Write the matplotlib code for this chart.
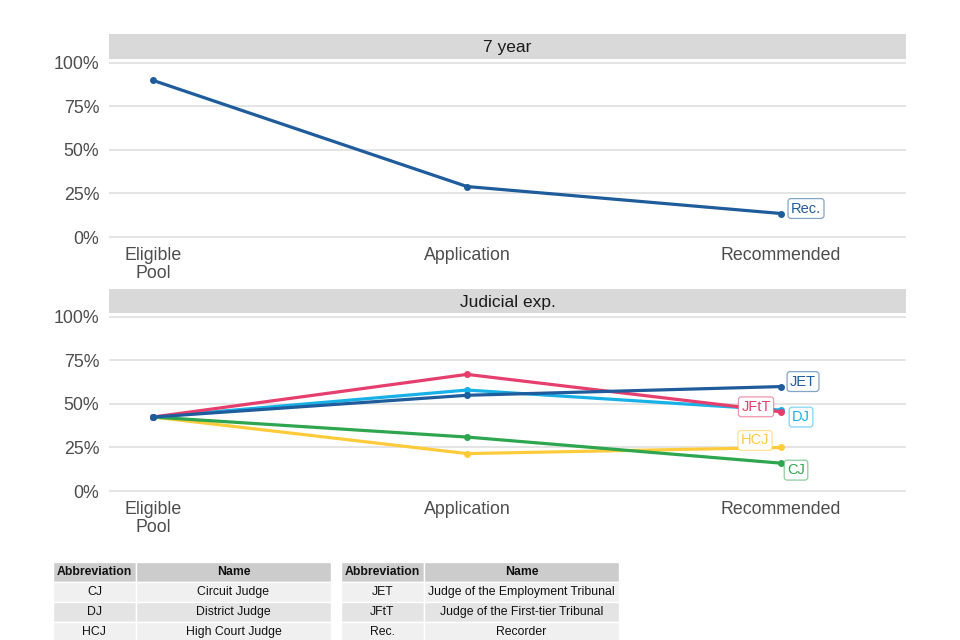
import matplotlib
matplotlib.use("Agg")
import matplotlib.pyplot as plt
from matplotlib.colors import to_rgba
from matplotlib.ticker import PercentFormatter

plt.rcParams['font.family'] = ['Liberation Sans', 'DejaVu Sans']

# data
stages = ["Eligible\nPool", "Application", "Recommended"]
panel_titles = ["7 year", "Judicial exp."]

rec_7yr = [0.90, 0.29, 0.135]

hcj = [0.425, 0.215, 0.25]
cj = [0.425, 0.31, 0.16]
dj = [0.425, 0.58, 0.465]
jftt = [0.425, 0.67, 0.455]
jet = [0.425, 0.55, 0.60]

abbr_left = ["CJ", "DJ", "HCJ"]
name_left = ["Circuit Judge", "District Judge", "High Court Judge"]
abbr_right = ["JET", "JFtT", "Rec."]
name_right = ["Judge of the Employment Tribunal", "Judge of the First-tier Tribunal", "Recorder"]

# colours
DARK = "#1f5c9c"
LIGHT = "#17b1e8"
PINK = "#e63e6d"
YELLOW = "#ffcb3b"
GREEN = "#2ea64f"

W, H = 960, 640
fig = plt.figure(figsize=(9.6, 6.4), dpi=100)

def box(l, t, r, b):
    return [l / W, 1 - b / H, (r - l) / W, (b - t) / H]

def strip(t, b, title):
    s = fig.add_axes(box(109, t, 906, b))
    s.set_facecolor("#d9d9d9")
    s.set_xticks([]); s.set_yticks([])
    for sp in s.spines.values():
        sp.set_visible(False)
    s.text(0.5, 0.45, title, ha="center", va="center", fontsize=12.5, color="#1a1a1a",
           transform=s.transAxes)

def panel(t, b):
    ax = fig.add_axes(box(109, t, 906, b))
    ax.set_xlim(-0.14, 2.398)
    ax.set_ylim(-0.0057, 1.017)
    ax.set_yticks([0, 0.25, 0.5, 0.75, 1.0])
    ax.yaxis.set_major_formatter(PercentFormatter(1.0, decimals=0))
    ax.set_xticks(range(len(stages)))
    ax.set_xticklabels(stages, linespacing=1.05)
    ax.tick_params(axis="both", length=0, labelsize=12.8, labelcolor="#4d4d4d")
    ax.tick_params(axis="y", pad=7)
    ax.tick_params(axis="x", pad=6.5)
    ax.grid(axis="y", color="#dcdcdc", linewidth=1.1)
    ax.set_axisbelow(True)
    for sp in ax.spines.values():
        sp.set_visible(False)
    return ax

def label(ax, x, y, text, color, dx, dy):
    ax.annotate(text, (x, y), xytext=(dx, dy), textcoords="offset pixels",
                ha="center", va="center", fontsize=10.5, color=color, zorder=10,
                bbox=dict(boxstyle="round,pad=0.2,rounding_size=0.2", fc="white",
                          ec=to_rgba(color, 0.55), lw=0.9))

xs = list(range(len(stages)))

# top panel
strip(34, 59, panel_titles[0])
ax1 = panel(60, 238)
ax1.plot(xs, rec_7yr, color=DARK, lw=2.3, marker="o", ms=4, zorder=3)
label(ax1, xs[-1], rec_7yr[-1], "Rec.", DARK, 25, 5)

# bottom panel
strip(289, 313, panel_titles[1])
ax2 = panel(314, 492)
series = [(hcj, YELLOW), (cj, GREEN), (dj, LIGHT), (jftt, PINK), (jet, DARK)]
for vals, col in series:
    ax2.plot(xs, vals, color=col, lw=2.3, marker="o", ms=4, zorder=3)

label(ax2, xs[-1], jet[-1], "JET", DARK, 22, 5)
label(ax2, xs[-1], dj[-1], "DJ", LIGHT, 20, -7)
label(ax2, xs[-1], jftt[-1], "JFtT", PINK, -25, 5)
label(ax2, xs[-1], hcj[-1], "HCJ", YELLOW, -26, 7)
label(ax2, xs[-1], cj[-1], "CJ", GREEN, 15, -7)

# abbreviation tables
def draw_table(l, r, abbrs, names):
    ta = fig.add_axes(box(l, 562, r, 642))
    ta.axis("off")
    rows = [[a, n] for a, n in zip(abbrs, names)]
    row_cols = ["#f0f0f0", "#e4e4e4", "#f0f0f0"]
    tb = ta.table(cellText=rows, colLabels=["Abbreviation", "Name"],
                  cellColours=[[c, c] for c in row_cols],
                  colColours=["#cccccc", "#cccccc"],
                  cellLoc="center", colWidths=[0.298, 0.702], bbox=[0, 0, 1, 1])
    tb.auto_set_font_size(False)
    for (rr, cc), cell in tb.get_celld().items():
        cell.set_edgecolor("white")
        cell.set_linewidth(1.0)
        cell.get_text().set_fontsize(8.8)
        cell.get_text().set_color("#111111")
        if rr == 0:
            cell.get_text().set_fontweight("bold")

draw_table(53, 331, abbr_left, name_left)
draw_table(341, 619, abbr_right, name_right)

fig.savefig("out.png", dpi=100)
